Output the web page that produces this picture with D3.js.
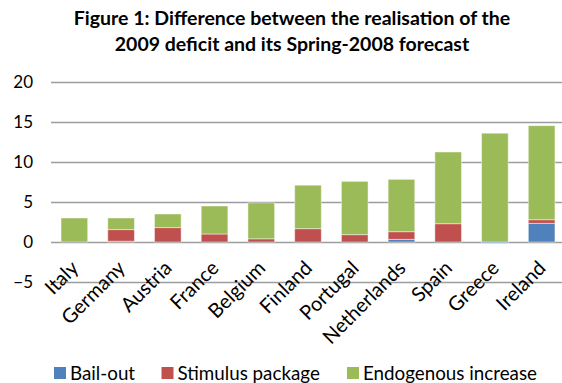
<!DOCTYPE html>
<html>
<head>
<meta charset="utf-8">
<script src="https://cdn.jsdelivr.net/npm/d3@7"></script>
<style>
  html, body { margin: 0; padding: 0; background: #fff; }
  svg { display: block; font-family: Lato, "Open Sans", sans-serif; }
</style>
</head>
<body>
<svg id="chart" width="562" height="383"></svg>
<script>
// Deficit overshoot 2009 vs Spring-2008 forecast, % points, per country
const countries = ["Italy", "Germany", "Austria", "France", "Belgium", "Finland",
                   "Portugal", "Netherlands", "Spain", "Greece", "Ireland"];
const bailOut    = [0.0, 0.1, 0.0, 0.0, 0.0, 0.0, 0.0, 0.33, 0.0, -0.15, 2.33];
const stimulus   = [0.0, 1.45, 1.8, 1.0, 0.4, 1.67, 0.92, 0.96, 2.29, 0.0, 0.46];
const endogenous = [3.0, 1.45, 1.7, 3.5, 4.5, 5.43, 6.66, 6.54, 8.96, 13.6, 11.75];
const seriesNames = ["Bail-out", "Stimulus package", "Endogenous increase"];
const seriesColors = ["#4F81BD", "#C0504D", "#9BBB59"];
const yTicks = [-5, 0, 5, 10, 15, 20];
const titleLines = ["Figure 1: Difference between the realisation of the",
                    "2009 deficit and its Spring-2008 forecast"];

const svg = d3.select("#chart");

const rows = countries.map((c, i) => ({
  country: c, "Bail-out": bailOut[i], "Stimulus package": stimulus[i],
  "Endogenous increase": endogenous[i]
}));

const stacked = d3.stack().keys(seriesNames).offset(d3.stackOffsetDiverging)(rows);

const x = d3.scaleBand().domain(countries).range([51, 565]).paddingInner(0.43).paddingOuter(0.215);
const y = d3.scaleLinear().domain([-5, 20]).range([282, 82]);
const color = d3.scaleOrdinal().domain(seriesNames).range(seriesColors);

// Title
svg.append("g").selectAll("text").data(titleLines).join("text")
  .attr("x", 292).attr("y", (d, i) => 25 + i * 26)
  .attr("text-anchor", "middle")
  .attr("font-weight", "bold").attr("font-size", 19.5).attr("fill", "#000")
  .text(d => d);

// Horizontal gridlines + value labels
const yAxis = d3.axisLeft(y).tickValues(yTicks).tickSize(-(562 - 51)).tickPadding(18);
const gy = svg.append("g").attr("transform", "translate(51,0)").call(yAxis);
gy.select(".domain").remove();
gy.selectAll(".tick line").attr("stroke", "#9d9d9d").attr("stroke-width", 1.6);
gy.selectAll(".tick text").attr("font-size", 17).attr("fill", "#000")
  .attr("font-family", "Lato, 'Open Sans', sans-serif");

// Stacked bars
svg.append("g").selectAll("g").data(stacked).join("g")
  .attr("fill", d => color(d.key))
  .selectAll("rect").data(d => d).join("rect")
  .attr("x", d => x(d.data.country))
  .attr("width", x.bandwidth())
  .attr("y", d => y(Math.max(d[0], d[1])))
  .attr("height", d => Math.abs(y(d[0]) - y(d[1])))
  .attr("stroke", "rgba(255,255,255,0.45)").attr("stroke-width", 1);

// Category labels, rotated
const gx = svg.append("g").attr("transform", `translate(0,${y(0)})`)
  .call(d3.axisBottom(x).tickSize(0).tickPadding(0));
gx.select(".domain").remove();
gx.selectAll(".tick text")
  .attr("font-size", 20).attr("fill", "#000")
  .attr("font-family", "Lato, 'Open Sans', sans-serif")
  .attr("text-anchor", "end")
  .attr("dy", null).attr("y", 0)
  .attr("transform", "translate(-6,16) rotate(-45)")
  .attr("dominant-baseline", "hanging");

// Legend
const legendX = [54, 161.5, 347];
const lg = svg.append("g").selectAll("g").data(seriesNames).join("g")
  .attr("transform", (d, i) => `translate(${legendX[i]},367)`);
lg.append("rect").attr("width", 12).attr("height", 12).attr("fill", d => color(d));
lg.append("text").attr("x", 16).attr("y", 13).attr("font-size", 18.8).attr("fill", "#000")
  .text(d => d);
</script>
</body>
</html>
